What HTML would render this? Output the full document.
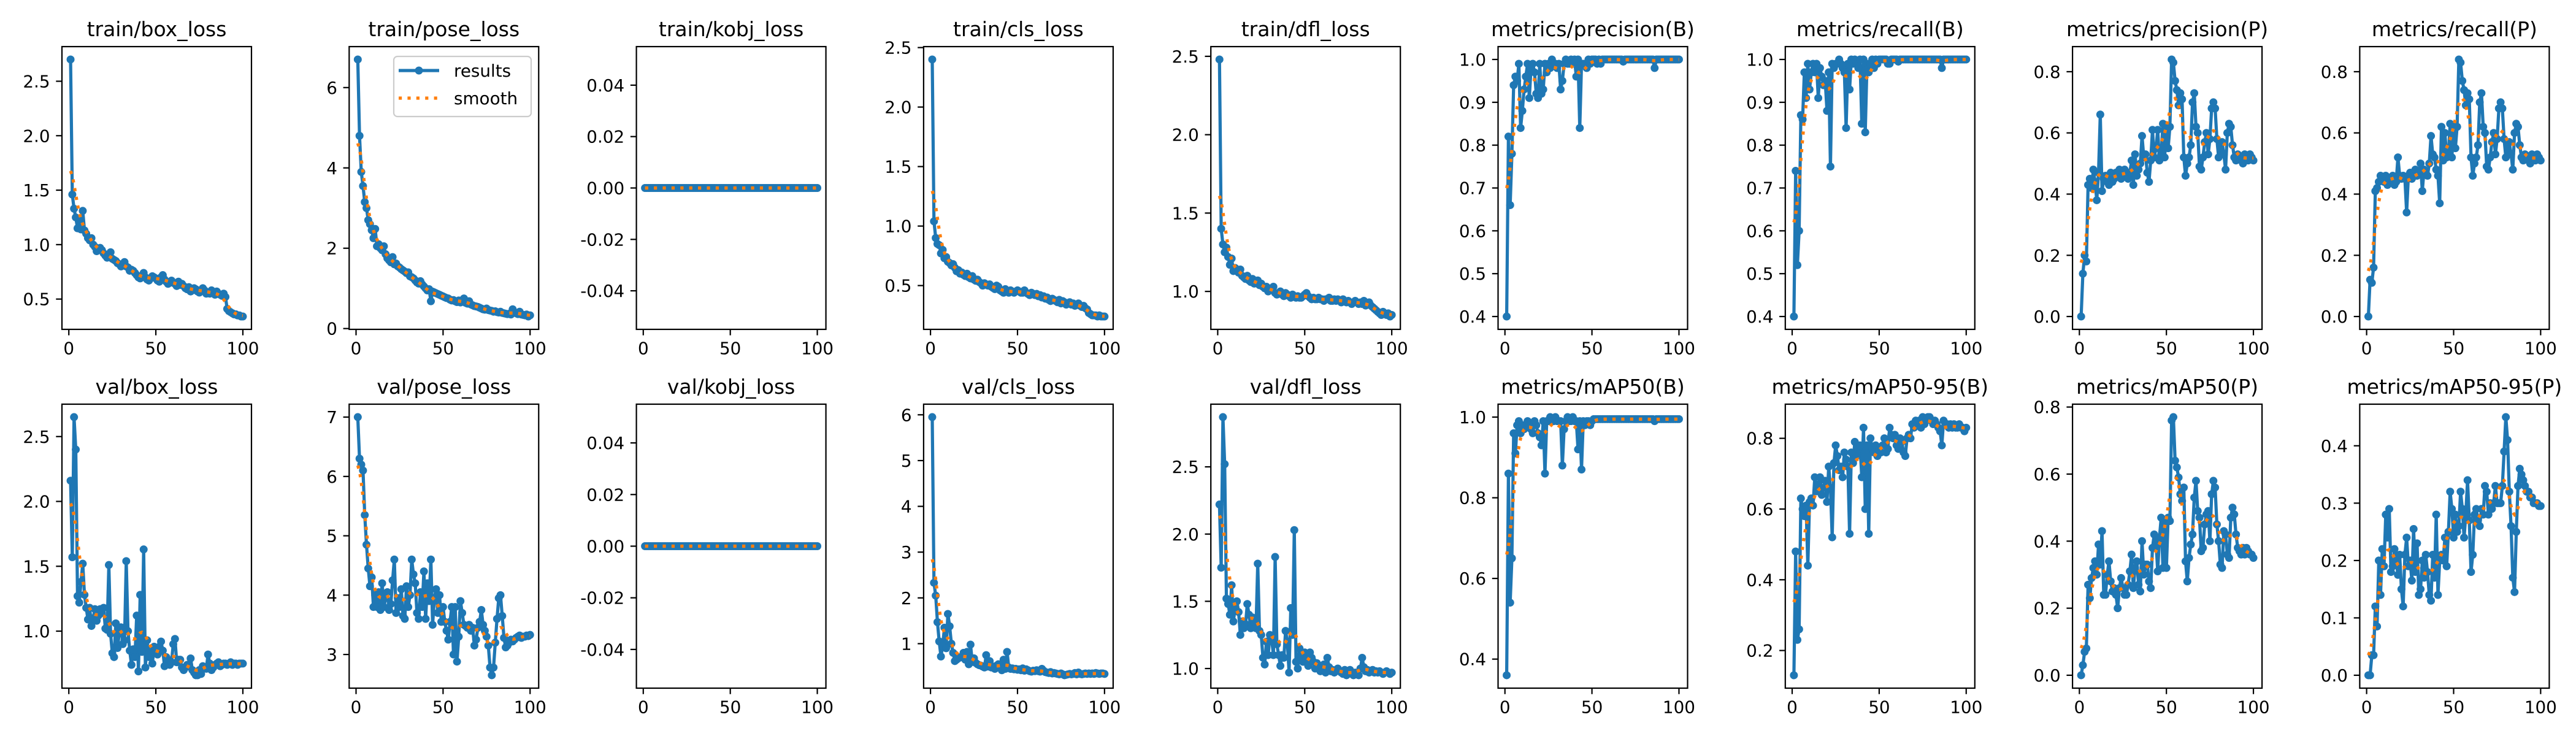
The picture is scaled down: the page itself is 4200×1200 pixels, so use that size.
<!DOCTYPE html>
<html>
<head>
<meta charset="utf-8">
<style>
html,body{margin:0;padding:0;background:#fff;}
svg{display:block;font-family:"DejaVu Sans","Liberation Sans",sans-serif;}
</style>
</head>
<body>
<svg id="fig" xmlns="http://www.w3.org/2000/svg" width="4200" height="1200" viewBox="0 0 4200 1200">
<rect x="0" y="0" width="4200" height="1200" fill="#ffffff"/>
</svg>
<script>
const epochs = Array.from({length:100},(_, i)=>i+1);
const titles = ["train/box_loss","train/pose_loss","train/kobj_loss","train/cls_loss","train/dfl_loss","metrics/precision(B)","metrics/recall(B)","metrics/precision(P)","metrics/recall(P)","val/box_loss","val/pose_loss","val/kobj_loss","val/cls_loss","val/dfl_loss","metrics/mAP50(B)","metrics/mAP50-95(B)","metrics/mAP50(P)","metrics/mAP50-95(P)"];
const zeros100 = Array(100).fill(0);
const trainBox = [2.70,1.46,1.33,1.25,1.15,1.24,1.14,1.31,1.13,1.10,1.06,1.04,1.06,1.00,0.98,0.94,0.96,0.97,0.95,0.92,0.90,0.88,0.90,0.93,0.87,0.86,0.85,0.83,0.82,0.80,0.82,0.84,0.80,0.79,0.76,0.77,0.76,0.74,0.72,0.70,0.69,0.70,0.74,0.70,0.68,0.67,0.69,0.71,0.70,0.69,0.67,0.66,0.70,0.72,0.68,0.66,0.64,0.65,0.67,0.65,0.64,0.62,0.66,0.63,0.64,0.62,0.60,0.59,0.61,0.57,0.58,0.60,0.59,0.57,0.56,0.58,0.60,0.58,0.55,0.56,0.55,0.58,0.56,0.54,0.57,0.55,0.54,0.53,0.55,0.52,0.41,0.39,0.38,0.37,0.36,0.36,0.35,0.35,0.34,0.34];
const trainPose = [6.70,4.80,3.90,3.55,3.15,3.00,2.70,2.60,2.45,2.25,2.48,2.05,2.10,2.00,1.95,2.05,1.85,1.75,1.70,1.65,1.78,1.60,1.62,1.55,1.52,1.48,1.45,1.42,1.38,1.40,1.30,1.28,1.25,1.20,1.15,1.12,1.18,1.10,1.05,1.00,0.95,0.98,0.68,0.92,0.90,0.88,0.86,0.84,0.82,0.80,0.78,0.76,0.75,0.72,0.70,0.71,0.68,0.66,0.70,0.65,0.68,0.75,0.64,0.62,0.68,0.60,0.58,0.56,0.55,0.54,0.52,0.50,0.48,0.47,0.50,0.46,0.45,0.44,0.42,0.43,0.41,0.40,0.42,0.39,0.38,0.37,0.36,0.37,0.35,0.48,0.40,0.38,0.36,0.42,0.35,0.34,0.33,0.35,0.30,0.33];
const trainCls = [2.40,1.04,0.90,0.85,0.84,0.77,0.80,0.73,0.74,0.70,0.69,0.67,0.68,0.65,0.62,0.63,0.60,0.61,0.59,0.58,0.60,0.57,0.56,0.58,0.55,0.54,0.55,0.53,0.52,0.50,0.52,0.51,0.50,0.51,0.49,0.48,0.47,0.50,0.49,0.46,0.45,0.44,0.47,0.45,0.44,0.46,0.45,0.44,0.45,0.46,0.45,0.44,0.44,0.46,0.44,0.43,0.42,0.44,0.43,0.42,0.43,0.41,0.42,0.40,0.41,0.39,0.40,0.38,0.37,0.39,0.38,0.37,0.36,0.38,0.35,0.37,0.36,0.34,0.35,0.36,0.34,0.35,0.33,0.34,0.35,0.33,0.32,0.33,0.31,0.30,0.27,0.26,0.25,0.25,0.25,0.24,0.25,0.24,0.24,0.24];
const trainDfl = [2.48,1.40,1.30,1.25,1.28,1.22,1.17,1.21,1.13,1.15,1.13,1.12,1.14,1.10,1.09,1.08,1.10,1.07,1.06,1.08,1.05,1.06,1.07,1.04,1.05,1.03,1.02,1.03,1.00,1.01,1.02,1.03,0.99,0.98,0.99,1.00,0.98,0.97,0.99,0.98,0.97,0.96,0.98,0.97,0.96,0.97,0.96,0.96,0.97,0.98,0.99,0.97,0.96,0.95,0.96,0.95,0.95,0.96,0.95,0.95,0.94,0.95,0.95,0.96,0.94,0.94,0.95,0.94,0.95,0.94,0.93,0.95,0.94,0.93,0.94,0.93,0.92,0.93,0.94,0.93,0.92,0.93,0.92,0.94,0.91,0.92,0.93,0.91,0.90,0.89,0.88,0.87,0.86,0.85,0.87,0.86,0.85,0.86,0.84,0.85];
const precB = [0.40,0.82,0.66,0.78,0.94,0.96,0.95,0.99,0.84,0.88,0.93,0.96,0.99,0.91,0.98,0.99,0.97,0.92,0.91,0.99,0.92,0.93,0.99,0.97,0.99,0.98,1.00,0.99,0.99,0.98,0.99,0.93,0.95,0.99,1.00,0.99,0.99,1.00,0.99,1.00,0.96,1.00,0.84,0.99,0.99,0.99,0.98,1.00,0.99,1.00,1.00,1.00,0.99,1.00,0.99,1.00,1.00,1.00,1.00,1.00,1.00,1.00,1.00,1.00,1.00,1.00,1.00,0.995,1.00,1.00,1.00,1.00,1.00,1.00,1.00,1.00,1.00,1.00,1.00,1.00,1.00,1.00,1.00,1.00,1.00,0.98,1.00,1.00,1.00,1.00,1.00,1.00,1.00,1.00,1.00,1.00,1.00,1.00,1.00,1.00];
const recB = [0.40,0.74,0.52,0.60,0.87,0.86,0.97,0.91,0.99,0.93,0.97,0.99,0.97,0.99,0.91,0.98,0.96,0.94,0.95,0.88,0.97,0.75,0.99,0.98,0.99,0.99,1.00,0.99,0.98,0.97,0.84,0.99,0.93,1.00,0.99,1.00,0.99,0.98,1.00,0.85,1.00,0.83,0.99,0.97,0.99,1.00,0.98,1.00,0.99,1.00,1.00,1.00,1.00,1.00,0.99,0.99,1.00,1.00,1.00,1.00,0.995,1.00,1.00,1.00,1.00,1.00,1.00,1.00,1.00,1.00,1.00,1.00,1.00,1.00,1.00,1.00,1.00,1.00,1.00,1.00,1.00,1.00,1.00,1.00,1.00,0.98,1.00,1.00,1.00,1.00,1.00,1.00,1.00,1.00,1.00,1.00,1.00,1.00,1.00,1.00];
const precP = [0.00,0.14,0.20,0.18,0.43,0.45,0.42,0.48,0.44,0.38,0.47,0.66,0.41,0.45,0.46,0.44,0.43,0.47,0.44,0.45,0.47,0.46,0.48,0.45,0.47,0.48,0.46,0.45,0.47,0.51,0.43,0.53,0.46,0.48,0.50,0.59,0.52,0.53,0.47,0.44,0.51,0.61,0.52,0.55,0.61,0.51,0.53,0.63,0.52,0.62,0.55,0.62,0.84,0.83,0.77,0.74,0.69,0.73,0.71,0.52,0.46,0.50,0.52,0.56,0.70,0.73,0.62,0.60,0.49,0.48,0.52,0.57,0.60,0.53,0.58,0.68,0.70,0.68,0.58,0.52,0.55,0.57,0.53,0.48,0.60,0.63,0.62,0.56,0.52,0.51,0.53,0.52,0.51,0.50,0.53,0.52,0.51,0.53,0.52,0.51];
const recP = [0.00,0.12,0.11,0.16,0.41,0.42,0.44,0.46,0.45,0.44,0.46,0.43,0.45,0.44,0.46,0.43,0.44,0.52,0.46,0.45,0.46,0.45,0.34,0.46,0.47,0.45,0.46,0.48,0.46,0.47,0.50,0.41,0.48,0.47,0.46,0.50,0.59,0.53,0.52,0.48,0.46,0.37,0.62,0.51,0.60,0.52,0.53,0.63,0.52,0.62,0.55,0.62,0.84,0.83,0.77,0.74,0.69,0.73,0.71,0.52,0.46,0.50,0.52,0.56,0.70,0.73,0.62,0.60,0.49,0.48,0.52,0.57,0.60,0.53,0.58,0.68,0.70,0.68,0.58,0.52,0.55,0.57,0.53,0.48,0.60,0.63,0.62,0.56,0.52,0.51,0.53,0.52,0.51,0.50,0.53,0.52,0.51,0.53,0.52,0.51];
const valBox = [2.16,1.57,2.65,2.40,1.27,1.22,1.38,1.52,1.28,1.18,1.09,1.18,1.04,1.10,1.17,1.08,1.12,1.17,1.14,1.18,1.02,1.01,1.51,0.98,0.83,0.80,1.06,0.87,0.99,1.03,0.90,0.93,1.54,1.00,0.85,0.74,0.86,0.80,1.12,0.69,1.28,0.84,1.63,0.72,0.93,0.80,0.86,0.75,0.88,0.86,0.82,0.88,0.92,0.85,0.73,0.80,0.78,0.74,0.76,0.90,0.94,0.76,0.78,0.78,0.72,0.70,0.72,0.74,0.73,0.79,0.70,0.68,0.66,0.66,0.70,0.67,0.73,0.72,0.71,0.82,0.75,0.70,0.72,0.74,0.75,0.76,0.73,0.74,0.75,0.75,0.74,0.75,0.76,0.74,0.75,0.75,0.74,0.75,0.75,0.75];
const valPose = [7.00,6.30,6.20,6.10,5.35,4.85,4.45,4.15,4.30,3.80,4.00,3.80,4.05,3.75,4.20,3.80,3.95,4.05,3.75,3.85,4.25,4.60,3.70,3.95,3.80,4.10,3.65,3.60,4.15,3.80,4.00,4.60,4.35,4.20,3.70,3.60,4.05,3.80,4.40,3.60,4.20,3.90,4.60,3.50,3.95,4.10,3.70,4.00,3.55,3.80,3.55,3.40,3.25,3.55,3.80,3.00,3.80,2.88,3.30,3.90,3.70,3.50,3.48,3.45,3.50,3.40,3.45,3.15,3.25,3.45,3.55,3.75,3.50,3.40,3.30,3.15,2.78,2.65,2.78,3.20,3.60,3.95,4.00,3.65,3.28,3.12,3.15,3.20,3.25,3.22,3.25,3.28,3.30,3.32,3.28,3.30,3.30,3.32,3.31,3.33];
const valCls = [5.95,2.33,2.05,1.47,1.05,0.72,0.95,1.35,0.90,1.65,1.38,1.00,0.80,0.62,0.65,0.68,0.70,0.72,0.80,0.65,0.82,0.55,0.98,0.60,0.68,0.58,0.55,0.53,0.52,0.50,0.48,0.75,0.50,0.62,0.48,0.50,0.45,0.52,0.55,0.47,0.42,0.65,0.45,0.82,0.48,0.45,0.46,0.44,0.45,0.43,0.44,0.42,0.46,0.41,0.44,0.42,0.40,0.39,0.41,0.40,0.42,0.40,0.39,0.45,0.41,0.38,0.37,0.36,0.38,0.35,0.36,0.35,0.34,0.33,0.35,0.33,0.31,0.32,0.33,0.34,0.33,0.34,0.36,0.33,0.37,0.34,0.33,0.34,0.35,0.34,0.35,0.34,0.35,0.34,0.36,0.35,0.34,0.35,0.35,0.34];
const valDfl = [2.22,1.75,2.87,2.52,1.52,1.48,1.40,1.62,1.35,1.45,1.50,1.42,1.25,1.35,1.30,1.33,1.48,1.40,1.30,1.38,1.35,1.30,1.78,1.28,1.25,1.08,1.03,1.20,1.10,1.25,1.22,1.10,1.83,1.18,1.10,1.02,1.10,1.08,1.28,1.20,0.97,1.45,1.25,2.03,1.05,1.00,1.15,1.08,1.05,1.12,1.07,1.02,1.12,1.08,1.05,1.00,1.04,1.02,0.98,1.00,1.03,0.97,1.08,1.01,0.98,0.99,0.97,0.99,1.00,0.98,0.97,0.96,0.99,0.95,0.97,0.99,0.96,0.95,0.97,0.96,0.95,1.00,1.08,1.01,0.98,0.99,0.97,0.98,0.99,0.97,0.98,0.97,0.98,0.97,0.96,0.97,0.98,0.97,0.96,0.97];
const map50B = [0.36,0.86,0.54,0.65,0.96,0.91,0.98,0.99,0.96,0.98,0.97,0.98,0.99,0.98,0.97,0.96,0.99,0.98,0.96,0.95,0.93,0.99,0.86,0.99,0.99,1.00,0.99,0.99,1.00,0.99,0.99,0.99,0.88,0.97,0.99,1.00,0.99,0.99,1.00,0.99,0.99,0.92,0.99,0.87,0.99,0.98,0.99,0.99,0.98,0.99,0.995,0.995,0.995,0.995,0.995,0.995,0.995,0.995,0.995,0.995,0.995,0.995,0.995,0.995,0.995,0.995,0.995,0.995,0.995,0.995,0.995,0.995,0.995,0.995,0.995,0.995,0.995,0.995,0.995,0.995,0.995,0.995,0.995,0.995,0.995,0.99,0.995,0.995,0.995,0.995,0.995,0.995,0.995,0.995,0.995,0.995,0.995,0.995,0.995,0.995];
const map5095B = [0.13,0.48,0.23,0.26,0.63,0.60,0.58,0.61,0.44,0.62,0.63,0.61,0.69,0.65,0.67,0.69,0.64,0.66,0.68,0.62,0.72,0.66,0.52,0.73,0.78,0.75,0.71,0.72,0.69,0.76,0.74,0.72,0.53,0.76,0.73,0.79,0.75,0.77,0.78,0.69,0.83,0.60,0.78,0.53,0.80,0.77,0.76,0.78,0.75,0.77,0.76,0.78,0.80,0.76,0.77,0.83,0.81,0.80,0.81,0.78,0.77,0.80,0.79,0.76,0.75,0.80,0.81,0.80,0.84,0.83,0.85,0.84,0.85,0.83,0.86,0.84,0.85,0.86,0.86,0.85,0.84,0.85,0.84,0.83,0.82,0.78,0.85,0.84,0.84,0.83,0.84,0.83,0.84,0.83,0.83,0.84,0.83,0.83,0.82,0.83];
const map50P = [0.00,0.03,0.07,0.08,0.27,0.23,0.29,0.32,0.34,0.30,0.39,0.33,0.43,0.24,0.24,0.30,0.34,0.28,0.25,0.26,0.24,0.20,0.26,0.29,0.26,0.24,0.24,0.27,0.31,0.36,0.26,0.32,0.34,0.27,0.25,0.40,0.30,0.33,0.33,0.28,0.26,0.38,0.42,0.40,0.31,0.41,0.47,0.32,0.46,0.32,0.47,0.46,0.76,0.77,0.64,0.62,0.59,0.54,0.52,0.56,0.34,0.28,0.35,0.39,0.42,0.53,0.58,0.49,0.47,0.37,0.38,0.45,0.48,0.49,0.40,0.54,0.58,0.56,0.45,0.40,0.33,0.32,0.43,0.42,0.36,0.35,0.47,0.50,0.48,0.42,0.38,0.37,0.36,0.38,0.36,0.38,0.37,0.36,0.36,0.35];
const map5095P = [0.00,0.00,0.035,0.035,0.12,0.085,0.20,0.14,0.22,0.19,0.28,0.24,0.29,0.18,0.19,0.22,0.20,0.175,0.21,0.15,0.12,0.21,0.24,0.19,0.20,0.165,0.255,0.18,0.23,0.14,0.15,0.20,0.17,0.21,0.18,0.14,0.13,0.21,0.17,0.28,0.14,0.20,0.21,0.20,0.24,0.19,0.25,0.32,0.29,0.24,0.28,0.25,0.26,0.32,0.29,0.24,0.28,0.34,0.27,0.18,0.21,0.28,0.29,0.27,0.26,0.29,0.28,0.33,0.32,0.28,0.30,0.29,0.30,0.33,0.30,0.30,0.30,0.33,0.39,0.45,0.41,0.32,0.26,0.17,0.145,0.25,0.33,0.36,0.35,0.34,0.33,0.32,0.32,0.31,0.31,0.30,0.30,0.30,0.295,0.295];
const seriesList = [trainBox,trainPose,zeros100,trainCls,trainDfl,precB,recB,precP,recP,valBox,valPose,zeros100,valCls,valDfl,map50B,map5095B,map50P,map5095P];
const kobjTicks = ["-0.04","-0.02","0.00","0.02","0.04"];
const yTickLabels = [
 ["0.5","1.0","1.5","2.0","2.5"],["0","2","4","6"],kobjTicks,["0.5","1.0","1.5","2.0","2.5"],["1.0","1.5","2.0","2.5"],
 ["0.4","0.5","0.6","0.7","0.8","0.9","1.0"],["0.4","0.5","0.6","0.7","0.8","0.9","1.0"],["0.0","0.2","0.4","0.6","0.8"],["0.0","0.2","0.4","0.6","0.8"],
 ["1.0","1.5","2.0","2.5"],["3","4","5","6","7"],kobjTicks,["1","2","3","4","5","6"],["1.0","1.5","2.0","2.5"],
 ["0.4","0.6","0.8","1.0"],["0.2","0.4","0.6","0.8"],["0.0","0.2","0.4","0.6","0.8"],["0.0","0.1","0.2","0.3","0.4"]];
const xTickLabels = ["0","50","100"];

const NS = "http://www.w3.org/2000/svg";
const svg = document.getElementById("fig");
function mk(tag, attrs, parent){const e=document.createElementNS(NS,tag);for(const k in attrs)e.setAttribute(k,attrs[k]);(parent||svg).appendChild(e);return e;}

function gaussSmooth(y, sigma){
  const r = Math.round(4*sigma), w=[]; let s=0;
  for(let k=-r;k<=r;k++){const v=Math.exp(-0.5*k*k/(sigma*sigma));w.push(v);s+=v;}
  const n=y.length, out=[];
  for(let i=0;i<n;i++){let acc=0;for(let k=-r;k<=r;k++){let j=i+k;while(j<0||j>=n){if(j<0)j=-j-1;if(j>=n)j=2*n-j-1;}acc+=w[k+r]*y[j];}out.push(acc/s);}
  return out;
}

const AX_W = 309, PITCH = 468.3, LEFT0 = 101;
const rows = [{top:76,bot:537},{top:659,bot:1122}];
const MR = 6.5;

seriesList.forEach((ys, idx)=>{
  const row = rows[Math.floor(idx/9)];
  const col = idx%9;
  const L = LEFT0 + col*PITCH, R = L + AX_W, T = row.top, B = row.bot;
  const g = mk("g",{});
  
  
  const sm = gaussSmooth(ys, 3);
  const isConst = Math.max(...ys) === Math.min(...ys);
  let ymin, ymax;
  if(isConst){ymin=-0.055; ymax=0.055;}
  else{
    const lo=Math.min(...ys,...sm), hi=Math.max(...ys,...sm), m=(hi-lo)*0.05;
    ymin=lo-m; ymax=hi+m;
  }
  const xmin=-3.95, xmax=104.95;
  const sx = x => L + (x-xmin)/(xmax-xmin)*AX_W;
  const sy = y => B - (y-ymin)/(ymax-ymin)*(B-T);

  const t = mk("text",{x:(L+R)/2, y:T-17, "text-anchor":"middle", "font-size":"33", fill:"#000"}, g);
  t.textContent = titles[idx];
  
  

  const pts = epochs.map((e,i)=>sx(e).toFixed(2)+","+sy(ys[i]).toFixed(2)).join(" ");
  const pl = mk("polyline",{points:pts, fill:"none", stroke:"#1f77b4", "stroke-width":"5.2", "stroke-linejoin":"round"}, g);
  
  
  const mg = mk("g",{fill:"#1f77b4"}, g);
  
  
  epochs.forEach((e,i)=>{
    const c = mk("circle",{cx:sx(e).toFixed(2), cy:sy(ys[i]).toFixed(2), r:MR}, mg);
    
    
  });
  const spts = epochs.map((e,i)=>sx(e).toFixed(2)+","+sy(sm[i]).toFixed(2)).join(" ");
  const sl = mk("polyline",{points:spts, fill:"none", stroke:"#ff7f0e", "stroke-width":"5.2", "stroke-dasharray":"5.2 9.2"}, g);
  
  

  const fr = mk("rect",{x:L, y:T, width:AX_W, height:B-T, fill:"none", stroke:"#000", "stroke-width":"2.2"}, g);
  
  

  yTickLabels[idx].forEach(lab=>{
    const v = parseFloat(lab), y = sy(v);
    const tk = mk("line",{x1:L, x2:L-9.7, y1:y, y2:y, stroke:"#000", "stroke-width":"2.2"}, g);
    
    
    const tl = mk("text",{x:L-19.4, y:y+10, "text-anchor":"end", "font-size":"27.8", fill:"#000"}, g);
    tl.textContent = lab;
    
    
  });
  xTickLabels.forEach(lab=>{
    const x = sx(parseFloat(lab));
    const tk = mk("line",{x1:x, x2:x, y1:B, y2:B+9.7, stroke:"#000", "stroke-width":"2.2"}, g);
    
    
    const tl = mk("text",{x:x, y:B+40.5, "text-anchor":"middle", "font-size":"27.8", fill:"#000"}, g);
    tl.textContent = lab;
    
    
  });

  if(idx===1){
    const lg = mk("g",{}, g);
    
    
    mk("rect",{x:642, y:92, width:224, height:98, rx:6, fill:"#fff", "fill-opacity":"0.8", stroke:"#cccccc", "stroke-width":"2.2"}, lg);
    const e1 = mk("g",{}, lg);
    
    
    mk("line",{x1:650, x2:716, y1:115, y2:115, stroke:"#1f77b4", "stroke-width":"5.2"}, e1);
    mk("circle",{cx:683, cy:115, r:MR, fill:"#1f77b4"}, e1);
    const t1 = mk("text",{x:740, y:125, "font-size":"27.8", fill:"#000"}, e1);
    t1.textContent = "results";
    const e2 = mk("g",{}, lg);
    
    
    mk("line",{x1:650, x2:716, y1:160, y2:160, stroke:"#ff7f0e", "stroke-width":"5.2", "stroke-dasharray":"5.2 9.2"}, e2);
    const t2 = mk("text",{x:740, y:170, "font-size":"27.8", fill:"#000"}, e2);
    t2.textContent = "smooth";
  }
});
</script>
</body>
</html>
